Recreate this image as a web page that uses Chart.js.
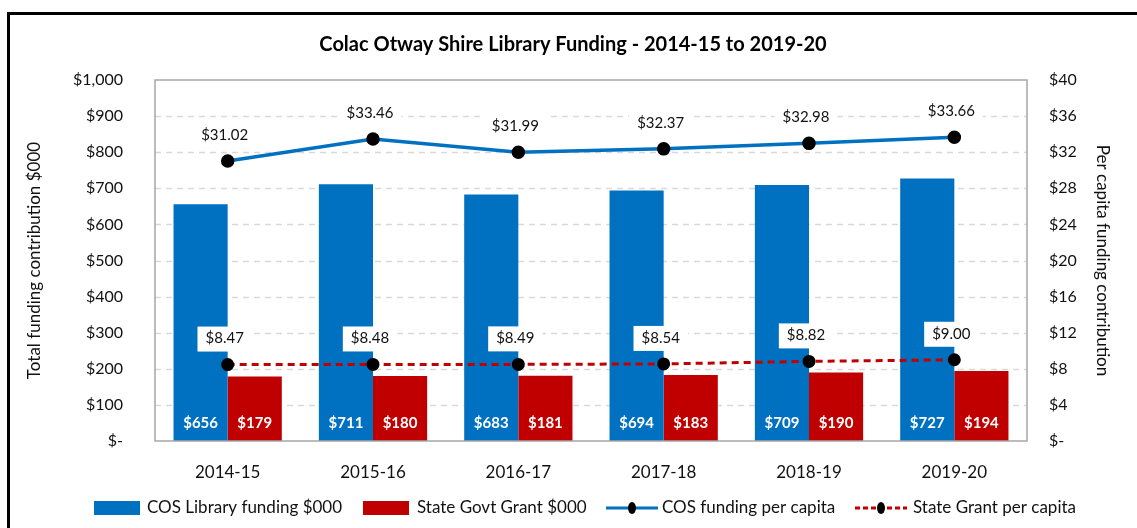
<!DOCTYPE html>
<html>
<head>
<meta charset="utf-8">
<script src="https://cdn.jsdelivr.net/npm/chart.js@4.4.1/dist/chart.umd.min.js"></script>
<style>
html,body{margin:0;padding:0;background:#fff;}
#wrap{position:relative;width:1137px;height:528px;}
</style>
</head>
<body>
<div id="wrap"><canvas id="c" width="1137" height="528"></canvas></div>
<script>
const categories = ['2014-15','2015-16','2016-17','2017-18','2018-19','2019-20'];
const cosFunding = [656, 711, 683, 694, 709, 727];
const stateGrant = [179, 180, 181, 183, 190, 194];
const cosPerCapita = [31.02, 33.46, 31.99, 32.37, 32.98, 33.66];
const statePerCapita = [8.47, 8.48, 8.49, 8.54, 8.82, 9.00];
const leftTicks = [0,100,200,300,400,500,600,700,800,900,1000];
const rightTicks = [0,4,8,12,16,20,24,28,32,36,40];

const FONT = 'Lato, "Open Sans", sans-serif';
const BLUE = '#0070C0';
const RED = '#C00000';

function fmtLeft(v){ return v === 0 ? '$-' : '$' + v.toLocaleString('en-US'); }
function fmtRight(v){ return v === 0 ? '$-' : '$' + v; }

const gridPlugin = {
  id: 'dashgrid',
  beforeDatasetsDraw(chart){
    const ctx = chart.ctx, a = chart.chartArea, s = chart.scales.y;
    ctx.save();
    ctx.strokeStyle = '#D9D9D9';
    ctx.lineWidth = 1.5;
    ctx.setLineDash([6,5]);
    leftTicks.forEach(v => {
      if (v === 0 || v === 1000) return;
      const y = Math.round(s.getPixelForValue(v)) + 0.5;
      ctx.beginPath();
      ctx.moveTo(a.left, y);
      ctx.lineTo(a.right, y);
      ctx.stroke();
    });
    ctx.restore();
  }
};

const labelPlugin = {
  id: 'labels',
  afterDatasetsDraw(chart){
    const ctx = chart.ctx;
    ctx.save();
    [0,1].forEach(di => {
      const meta = chart.getDatasetMeta(di);
      const ds = chart.data.datasets[di];
      meta.data.forEach((el, i) => {
        ctx.font = 'bold 15px ' + FONT;
        ctx.fillStyle = '#fff';
        ctx.textAlign = 'center';
        ctx.textBaseline = 'middle';
        ctx.fillText('$' + ds.data[i], el.x, chart.chartArea.bottom - 18);
      });
    });
    [2,3].forEach(di => {
      const meta = chart.getDatasetMeta(di);
      const ds = chart.data.datasets[di];
      meta.data.forEach((el, i) => {
        const txt = '$' + ds.data[i].toFixed(2);
        ctx.font = '15px ' + FONT;
        const w = ctx.measureText(txt).width;
        const cx = el.x - 3, cy = el.y - 26;
        ctx.fillStyle = '#fff';
        ctx.fillRect(cx - w/2 - 8, cy - 12, w + 16, 25);
        ctx.fillStyle = '#111';
        ctx.textAlign = 'center';
        ctx.textBaseline = 'middle';
        ctx.fillText(txt, cx, cy);
      });
    });
    ctx.restore();
  }
};

const framePlugin = {
  id: 'frame',
  beforeDraw(chart){
    const ctx = chart.ctx;
    ctx.save();
    ctx.fillStyle = '#fff';
    ctx.fillRect(0,0,chart.width,chart.height);
    ctx.restore();
  },
  afterDraw(chart){
    const ctx = chart.ctx;
    const a = chart.chartArea;
    ctx.save();
    ctx.strokeStyle = '#A6A6A6';
    ctx.lineWidth = 1.5;
    ctx.strokeRect(a.left, a.top, a.right - a.left, a.bottom - a.top);
    ctx.strokeStyle = '#000';
    ctx.lineWidth = 3;
    ctx.beginPath();
    ctx.moveTo(8.5, 540);
    ctx.lineTo(8.5, 13.5);
    ctx.lineTo(1150, 13.5);
    ctx.stroke();
    ctx.fillStyle = '#000';
    ctx.font = 'bold 20px ' + FONT;
    ctx.textAlign = 'center';
    ctx.textBaseline = 'middle';
    ctx.fillText('Colac Otway Shire Library Funding - 2014-15 to 2019-20', 573, 45);
    const ly = 508;
    const items = [
      {x: 94, type: 'bar', color: BLUE, text: chart.data.datasets[0].label, tx: 147},
      {x: 363, type: 'bar', color: RED, text: chart.data.datasets[1].label, tx: 417},
      {x: 606, type: 'line', color: BLUE, dash: [], text: chart.data.datasets[2].label, tx: 662},
      {x: 855, type: 'line', color: RED, dash: [5,3], text: chart.data.datasets[3].label, tx: 913}
    ];
    ctx.font = '17px ' + FONT;
    ctx.textAlign = 'left';
    items.forEach(it => {
      if (it.type === 'bar') {
        ctx.fillStyle = it.color;
        ctx.fillRect(it.x, ly - 7, 46, 14);
      } else {
        ctx.strokeStyle = it.color;
        ctx.lineWidth = 3;
        ctx.setLineDash(it.dash);
        ctx.beginPath();
        ctx.moveTo(it.x, ly);
        ctx.lineTo(it.x + 52, ly);
        ctx.stroke();
        ctx.setLineDash([]);
        ctx.fillStyle = '#000';
        ctx.beginPath();
        ctx.ellipse(it.x + 26, ly, 4, 6, 0, 0, Math.PI*2);
        ctx.fill();
      }
      ctx.fillStyle = '#111';
      ctx.fillText(it.text, it.tx, ly);
    });
    ctx.restore();
  }
};

new Chart(document.getElementById('c'), {
  data: {
    labels: categories,
    datasets: [
      {type:'bar', label:'COS Library funding $000', data: cosFunding, backgroundColor: BLUE, yAxisID:'y', order: 3, barPercentage: 1, categoryPercentage: 0.745},
      {type:'bar', label:'State Govt Grant $000', data: stateGrant, backgroundColor: RED, yAxisID:'y', order: 3, barPercentage: 1, categoryPercentage: 0.745},
      {type:'line', label:'COS funding per capita', data: cosPerCapita, borderColor: BLUE, borderWidth: 3.5, pointBackgroundColor:'#000', pointBorderColor:'#000', pointRadius: 5, yAxisID:'y1', order: 1, tension: 0},
      {type:'line', label:'State Grant per capita', data: statePerCapita, borderColor: RED, borderWidth: 3, borderDash:[7,5], pointBackgroundColor:'#000', pointBorderColor:'#000', pointRadius: 5, yAxisID:'y1', order: 1, tension: 0}
    ]
  },
  options: {
    responsive: false,
    animation: false,
    devicePixelRatio: 1,
    layout: { padding: { left: 10, right: 0, top: 80, bottom: 42 } },
    plugins: { legend: { display: false }, title: { display: false }, tooltip: { enabled: false } },
    scales: {
      x: {
        grid: { display: false },
        border: { display: false },
        ticks: { color: '#111', font: { family: FONT, size: 17 }, padding: 13 },
        afterFit(s){ s.height = 45; }
      },
      y: {
        position: 'left',
        min: 0, max: 1000,
        afterBuildTicks(s){ s.ticks = leftTicks.map(v => ({value: v})); },
        grid: { display: false },
        border: { display: false },
        ticks: { color: '#111', font: { family: FONT, size: 16 }, padding: 24, callback: v => fmtLeft(v) },
        title: { display: true, text: 'Total funding contribution $000', color: '#111', font: { family: FONT, size: 17 }, padding: { top: 14, bottom: 0 } },
        afterFit(s){ s.width = 145; }
      },
      y1: {
        position: 'right',
        min: 0, max: 40,
        afterBuildTicks(s){ s.ticks = rightTicks.map(v => ({value: v})); },
        grid: { display: false },
        border: { display: false },
        ticks: { color: '#111', font: { family: FONT, size: 16 }, padding: 14, callback: v => fmtRight(v) },
        title: { display: true, text: 'Per capita funding contribution', color: '#111', font: { family: FONT, size: 17 }, padding: { top: 24, bottom: 0 } },
        afterFit(s){ s.width = 110; }
      }
    }
  },
  plugins: [framePlugin, gridPlugin, labelPlugin]
});
</script>
</body>
</html>
